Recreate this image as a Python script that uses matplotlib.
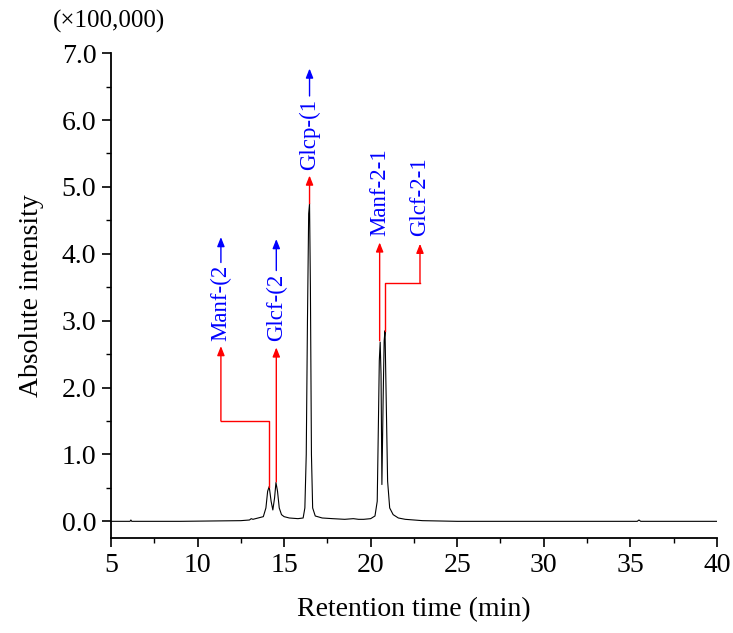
import matplotlib
matplotlib.use("Agg")
import matplotlib.pyplot as plt
from matplotlib.ticker import MultipleLocator

plt.rcParams["font.family"] = ["Liberation Serif", "DejaVu Serif"]

# chromatogram trace (time in min, intensity x100,000)
time_min = [5.0, 6.1, 6.15, 6.2, 9.0, 12.5, 13.0, 13.1, 13.2, 13.5, 13.8, 13.95,
            14.05, 14.14, 14.25, 14.35, 14.45, 14.53, 14.62, 14.72, 14.85, 15.0,
            15.3, 15.8, 16.1, 16.2, 16.28, 16.35, 16.42, 16.47, 16.52, 16.58,
            16.65, 16.8, 17.2, 17.8, 18.5, 19.0, 19.3, 19.6, 20.0, 20.25, 20.38,
            20.45, 20.5, 20.55, 20.6, 20.65, 20.72, 20.78, 20.83, 20.9, 20.98,
            21.1, 21.3, 21.6, 22.0, 23.0, 25.0, 30.0, 35.4, 35.5, 35.6, 40.0]
intensity = [0.0, 0.0, 0.02, 0.0, 0.0, 0.01, 0.02, 0.04, 0.03, 0.05, 0.07, 0.2,
             0.45, 0.52, 0.3, 0.17, 0.35, 0.58, 0.45, 0.2, 0.1, 0.07,
             0.05, 0.04, 0.05, 0.2, 1.0, 3.0, 4.6, 4.75, 3.5, 1.0,
             0.2, 0.08, 0.05, 0.04, 0.03, 0.04, 0.03, 0.03, 0.04, 0.08, 0.3,
             1.5, 2.4, 2.68, 2.2, 0.55, 1.8, 2.7, 2.85, 1.8, 0.6,
             0.2, 0.1, 0.05, 0.03, 0.01, 0.0, 0.0, 0.0, 0.02, 0.0, 0.0]

# peak labels and their leader paths (red part, then blue part above the text)
peak_names = ["Manf-(2", "Glcf-(2", "Glcp-(1", "Manf-2-1", "Glcf-2-1"]
red_x = [[14.12, 14.12, 11.35, 11.35],
         [14.55, 14.55],
         [16.47, 16.47],
         [20.52, 20.52],
         [20.85, 20.85, 22.85, 22.85]]
red_y = [[0.52, 1.5, 1.5, 2.62],
         [0.59, 2.6],
         [4.75, 5.17],
         [2.7, 4.17],
         [2.85, 3.56, 3.56, 4.15]]
text_y = [2.7, 2.7, 5.25, 4.27, 4.27]
blue_y = [[3.87, 4.25], [3.75, 4.22], [6.36, 6.77], None, None]

fig = plt.figure(figsize=(7.33, 6.33), dpi=100)
ax = fig.add_axes([0.1514, 0.150, 0.8266, 0.766])

ax.plot(time_min, intensity, color="black", lw=0.8)

arrow_kw = dict(arrowstyle="-|>,head_length=0.55,head_width=0.22", lw=1.0,
                shrinkA=0, shrinkB=0)
for name, xs, ys, ty, by in zip(peak_names, red_x, red_y, text_y, blue_y):
    if len(xs) > 2:
        ax.plot(xs[:-1], ys[:-1], color="red", lw=1.0)
    ax.annotate("", xy=(xs[-1], ys[-1]), xytext=(xs[-2], ys[-2]),
                arrowprops=dict(color="red", **arrow_kw))
    ax.text(xs[-1], ty, name, rotation=90, ha="center", va="bottom",
            color="blue", fontsize=16.5)
    if by is not None:
        ax.annotate("", xy=(xs[-1], by[1]), xytext=(xs[-1], by[0]),
                    arrowprops=dict(color="blue", **arrow_kw))

ax.set_xlim(5, 40)
ax.set_ylim(-0.25, 7.0)
ax.xaxis.set_major_locator(MultipleLocator(5))
ax.xaxis.set_minor_locator(MultipleLocator(2.5))
ax.yaxis.set_minor_locator(MultipleLocator(0.5))
ax.set_yticks([0, 1, 2, 3, 4, 5, 6, 7])
ax.set_yticklabels(["0.0", "1.0", "2.0", "3.0", "4.0", "5.0", "6.0", "7.0"])

for side in ["top", "right"]:
    ax.spines[side].set_visible(False)
for side in ["left", "bottom"]:
    ax.spines[side].set_linewidth(1.3)

ax.tick_params(which="major", direction="out", length=6.5, width=1.2,
               labelsize=20, pad=4)
ax.tick_params(which="minor", direction="out", length=3.5, width=1.0)

ax.set_xlabel("Retention time (min)", fontsize=20, labelpad=14)
ax.set_ylabel("Absolute intensity", fontsize=20, labelpad=13)

fig.text(53 / 733, 1 - 21 / 633, "(\u00d7100,000)", fontsize=18,
         ha="left", va="center")

fig.savefig("out.png", dpi=100)
